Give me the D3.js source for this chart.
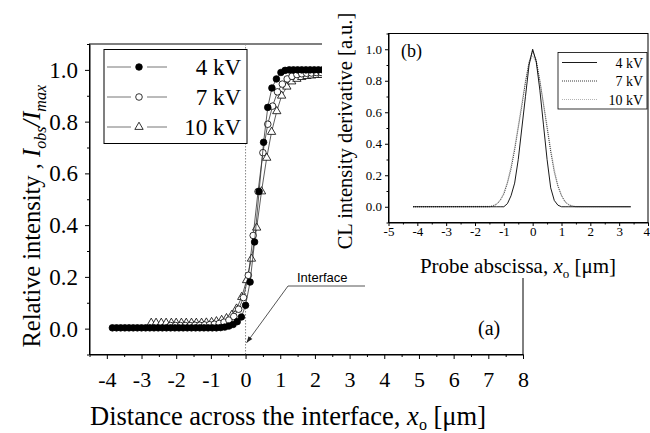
<!DOCTYPE html>
<html>
<head>
<meta charset="utf-8">
<script src="https://cdn.jsdelivr.net/npm/d3@7"></script>
<style>
  body { margin: 0; background: #fff; }
  text { font-family: "Liberation Serif", "Times New Roman", serif; fill: #000; }
</style>
</head>
<body>
<div id="chart"></div>
<script>
// panel (a): relative intensity vs distance
const kv4X = [-3.84,-3.72,-3.60,-3.48,-3.36,-3.24,-3.12,-3.00,-2.88,-2.76,-2.64,-2.52,-2.40,-2.28,-2.16,-2.04,-1.92,-1.80,-1.68,-1.56,-1.44,-1.32,-1.20,-1.08,-0.96,-0.84,-0.72,-0.60,-0.48,-0.36,-0.24,-0.12,0.00,0.13,0.26,0.39,0.52,0.64,0.76,0.89,1.02,1.14,1.26,1.38,1.50,1.62,1.74,1.86,1.98,2.10,2.22];
const kv4Y = [0.003,0.003,0.003,0.003,0.003,0.003,0.003,0.003,0.003,0.003,0.003,0.003,0.003,0.003,0.003,0.003,0.003,0.003,0.003,0.003,0.003,0.003,0.003,0.003,0.003,0.003,0.004,0.006,0.010,0.016,0.027,0.045,0.090,0.180,0.335,0.530,0.720,0.855,0.930,0.965,0.990,0.998,1.000,1.000,1.000,1.000,1.000,1.000,1.000,1.000,1.000];
const kv7X = [-2.16,-2.02,-1.88,-1.74,-1.60,-1.46,-1.32,-1.18,-1.04,-0.90,-0.76,-0.62,-0.48,-0.34,-0.20,-0.06,0.08,0.22,0.36,0.50,0.64,0.78,0.92,1.06,1.20,1.34,1.48,1.62,1.76,1.90,2.04,2.18];
const kv7Y = [0.012,0.012,0.012,0.012,0.012,0.013,0.013,0.014,0.015,0.017,0.020,0.025,0.033,0.047,0.075,0.120,0.206,0.360,0.530,0.680,0.790,0.860,0.915,0.945,0.965,0.975,0.982,0.985,0.987,0.988,0.990,0.990];
const kv10X = [-2.72,-2.58,-2.43,-2.29,-2.14,-2.00,-1.85,-1.71,-1.56,-1.42,-1.27,-1.13,-0.98,-0.84,-0.69,-0.55,-0.40,-0.26,-0.11,0.03,0.17,0.32,0.46,0.61,0.75,0.90,1.04,1.19,1.33,1.48,1.62,1.77,1.91,2.06,2.20];
const kv10Y = [0.022,0.022,0.022,0.022,0.022,0.022,0.022,0.022,0.022,0.022,0.022,0.023,0.025,0.028,0.033,0.040,0.052,0.077,0.122,0.187,0.270,0.390,0.530,0.660,0.760,0.840,0.900,0.935,0.955,0.965,0.972,0.976,0.978,0.980,0.980];
const mainXTicks = [-4,-3,-2,-1,0,1,2,3,4,5,6,7,8];
const mainYTicks = [0.0,0.2,0.4,0.6,0.8,1.0];
const legendA = ["4 kV", "7 kV", "10 kV"];

// panel (b): derivative
const insetX = [-4.15,-1.5,-1.375,-1.25,-1.125,-1.0,-0.875,-0.75,-0.625,-0.5,-0.375,-0.25,-0.125,0,0.125,0.25,0.375,0.5,0.625,0.75,0.875,1.0,1.125,1.25,1.375,1.5,3.4];
const d4 = [0,0,0,0,0,0,0.02,0.07,0.15,0.30,0.50,0.70,0.90,1.00,0.92,0.74,0.52,0.30,0.12,0.04,0.01,0,0,0,0,0,0];
const d7 = [0,0,0.005,0.015,0.04,0.08,0.15,0.24,0.36,0.50,0.64,0.79,0.92,0.99,0.93,0.80,0.65,0.50,0.35,0.22,0.13,0.07,0.03,0.012,0.004,0,0];
const d10 = [0,0.003,0.008,0.02,0.045,0.09,0.16,0.26,0.38,0.52,0.66,0.80,0.91,0.96,0.91,0.80,0.66,0.52,0.37,0.24,0.14,0.075,0.035,0.015,0.006,0.002,0];
const insetXTicks = [-5,-4,-3,-2,-1,0,1,2,3,4];
const insetYTicks = [0.0,0.2,0.4,0.6,0.8,1.0];
const legendB = ["4 kV", "7 kV", "10 kV"];

const width = 650;
const height = 433;

const svg = d3
  .select("#chart")
  .append("svg")
  .attr("width", width)
  .attr("height", height);

// ---------- main panel ----------
const x = d3.scaleLinear().domain([-4.5, 8]).range([89.5, 523]);
const y = d3.scaleLinear().domain([-0.1, 1.1]).range([354.5, 44]);

const main = svg.append("g");

// frame
main.append("rect")
  .attr("x", x(-4.5)).attr("y", y(1.1))
  .attr("width", x(8) - x(-4.5)).attr("height", y(-0.1) - y(1.1))
  .style("fill", "none").style("stroke", "#000").style("stroke-width", 1);

// interface dotted line
main.append("line")
  .attr("x1", x(0)).attr("x2", x(0))
  .attr("y1", y(1.1)).attr("y2", y(-0.1))
  .style("stroke", "#888").style("stroke-width", 1)
  .style("stroke-dasharray", "1.5,1.5");

// minor ticks
main.append("g")
  .attr("transform", `translate(0,${y(-0.1)})`)
  .call(d3.axisBottom(x).tickValues(d3.range(-4.5, 8.01, 1)).tickSize(2.5).tickFormat(""))
  .call((g) => g.select(".domain").remove());
main.append("g")
  .attr("transform", `translate(${x(-4.5)},0)`)
  .call(d3.axisLeft(y).tickValues([-0.1,0.1,0.3,0.5,0.7,0.9,1.1]).tickSize(2.5).tickFormat(""))
  .call((g) => g.select(".domain").remove());

const xAxis = main.append("g")
  .attr("transform", `translate(0,${y(-0.1)})`)
  .call(d3.axisBottom(x).tickValues(mainXTicks).tickSize(4.5).tickSizeOuter(0).tickPadding(12)
    .tickFormat((d) => String(d)));
xAxis.selectAll("text").style("font-size", "22px").style("font-family", "Liberation Serif, serif");

const yAxis = main.append("g")
  .attr("transform", `translate(${x(-4.5)},0)`)
  .call(d3.axisLeft(y).tickValues(mainYTicks).tickSize(4.5).tickSizeOuter(0).tickPadding(7)
    .tickFormat((d) => d.toFixed(1)));
yAxis.selectAll("text").style("font-size", "23px").style("font-family", "Liberation Serif, serif");

// series
const lineA = d3.line().x((d) => x(d[0])).y((d) => y(d[1]));
const series = [
  { name: "10 kV", xs: kv10X, ys: kv10Y, shape: "tri" },
  { name: "7 kV", xs: kv7X, ys: kv7Y, shape: "open" },
  { name: "4 kV", xs: kv4X, ys: kv4Y, shape: "filled" },
];
const tri = d3.symbol().type(d3.symbolTriangle).size(30);

function drawMarker(sel, shape) {
  if (shape === "tri") {
    sel.append("path").attr("d", tri).style("fill", "#fff").style("stroke", "#000").style("stroke-width", 0.8);
  } else {
    sel.append("circle").attr("r", 3.3)
      .style("fill", shape === "filled" ? "#000" : "#fff")
      .style("stroke", "#000").style("stroke-width", 0.8);
  }
}

series.forEach((s) => {
  const pts = s.xs.map((v, i) => [v, s.ys[i]]);
  main.append("path").datum(pts).attr("d", lineA)
    .style("fill", "none").style("stroke", "#333").style("stroke-width", 0.8);
  main.selectAll(null).data(pts).enter().append("g")
    .attr("transform", (d) => `translate(${x(d[0])},${y(d[1])})`)
    .each(function () { drawMarker(d3.select(this), s.shape); });
});

// legend (a)
const legA = main.append("g");
legA.append("rect").attr("x", 104).attr("y", 49.5).attr("width", 143).attr("height", 94)
  .style("fill", "#fff").style("stroke", "#000").style("stroke-width", 1);
const legShapes = ["filled", "open", "tri"];
legendA.forEach((lab, i) => {
  const ly = 67 + i * 30;
  legA.append("line").attr("x1", 107).attr("x2", 131).attr("y1", ly).attr("y2", ly)
    .style("stroke", "#777").style("stroke-width", 1);
  legA.append("line").attr("x1", 147).attr("x2", 167).attr("y1", ly).attr("y2", ly)
    .style("stroke", "#777").style("stroke-width", 1);
  const m = legA.append("g").attr("transform", `translate(139,${ly})`);
  drawMarker(m, legShapes[i]);
  legA.append("text").attr("x", 241).attr("y", ly + 8).attr("text-anchor", "end")
    .style("font-size", "23px").text(lab);
});

main.append("text").attr("x", 478).attr("y", 335).style("font-size", "20px").text("(a)");

// axis titles (a)
const xt = main.append("text").attr("x", 90).attr("y", 425).style("font-size", "26.5px");
xt.append("tspan").text("Distance across the interface, ");
xt.append("tspan").style("font-style", "italic").text("x");
xt.append("tspan").attr("dy", 5).style("font-size", "16px").text("o");
xt.append("tspan").attr("dy", -5).text(" [\u03bcm]");

const yt = main.append("text").attr("transform", "translate(40,85) rotate(-90)")
  .attr("text-anchor", "end").style("font-size", "24.5px");
yt.append("tspan").text("Relative intensity , ");
yt.append("tspan").style("font-style", "italic").text("I");
yt.append("tspan").attr("dy", 6).style("font-size", "16px").style("font-style", "italic").text("obs");
yt.append("tspan").attr("dy", -6).style("font-style", "italic").text("/I");
yt.append("tspan").attr("dy", 6).style("font-size", "16px").style("font-style", "italic").text("max");

// ---------- inset panel ----------
const ix = d3.scaleLinear().domain([-5, 4]).range([388.5, 648]);
const iy = d3.scaleLinear().domain([-0.1, 1.1]).range([222.5, 33.5]);

const inset = svg.append("g");
inset.append("rect").attr("x", 322).attr("y", 0).attr("width", 328).attr("height", 278)
  .style("fill", "#fff");
inset.append("rect")
  .attr("x", ix(-5)).attr("y", iy(1.1))
  .attr("width", ix(4) - ix(-5)).attr("height", iy(-0.1) - iy(1.1))
  .style("fill", "none").style("stroke", "#000").style("stroke-width", 1);

inset.append("g")
  .attr("transform", `translate(0,${iy(-0.1)})`)
  .call(d3.axisBottom(ix).tickValues(d3.range(-4.5, 4, 1)).tickSize(2).tickFormat(""))
  .call((g) => g.select(".domain").remove());
inset.append("g")
  .attr("transform", `translate(${ix(-5)},0)`)
  .call(d3.axisLeft(iy).tickValues([-0.1,0.1,0.3,0.5,0.7,0.9,1.1]).tickSize(2).tickFormat(""))
  .call((g) => g.select(".domain").remove());

const ixAxis = inset.append("g")
  .attr("transform", `translate(0,${iy(-0.1)})`)
  .call(d3.axisBottom(ix).tickValues(insetXTicks).tickSize(3.5).tickSizeOuter(0).tickPadding(1)
    .tickFormat((d) => String(d)));
ixAxis.selectAll("text").style("font-size", "13px").style("font-family", "Liberation Serif, serif");
// keep the last label inside the page
ixAxis.selectAll("text").filter((d) => d === 4).attr("text-anchor", "end").attr("x", 1.5);
const iyAxis = inset.append("g")
  .attr("transform", `translate(${ix(-5)},0)`)
  .call(d3.axisLeft(iy).tickValues(insetYTicks).tickSize(3.5).tickSizeOuter(0).tickPadding(3)
    .tickFormat((d) => d.toFixed(1)));
iyAxis.selectAll("text").style("font-size", "13px").style("font-family", "Liberation Serif, serif");

const lineB = d3.line().x((d) => ix(d[0])).y((d) => iy(d[1]));
const insetSeries = [
  { ys: d10, stroke: "#aaa", dash: "1,1" },
  { ys: d7, stroke: "#222", dash: "1,1" },
  { ys: d4, stroke: "#000", dash: null },
];
insetSeries.forEach((s) => {
  inset.append("path").datum(insetX.map((v, i) => [v, s.ys[i]])).attr("d", lineB)
    .style("fill", "none").style("stroke", s.stroke).style("stroke-width", 0.9)
    .style("stroke-dasharray", s.dash);
});

// legend (b)
inset.append("rect").attr("x", 558).attr("y", 52.5).attr("width", 89).attr("height", 56.5)
  .style("fill", "#fff").style("stroke", "#000").style("stroke-width", 0.8);
legendB.forEach((lab, i) => {
  const ly = 62.5 + i * 18.5;
  inset.append("line").attr("x1", 562).attr("x2", 597).attr("y1", ly).attr("y2", ly)
    .style("stroke", insetSeries[2 - i].stroke).style("stroke-width", 0.9)
    .style("stroke-dasharray", insetSeries[2 - i].dash);
  inset.append("text").attr("x", 643).attr("y", ly + 5).attr("text-anchor", "end")
    .style("font-size", "14px").text(lab);
});

inset.append("text").attr("x", 401).attr("y", 57).style("font-size", "18px").text("(b)");

const ixt = inset.append("text").attr("x", 518).attr("y", 273).attr("text-anchor", "middle")
  .style("font-size", "21px");
ixt.append("tspan").text("Probe abscissa, ");
ixt.append("tspan").style("font-style", "italic").text("x");
ixt.append("tspan").attr("dy", 5).style("font-size", "13px").text("o");
ixt.append("tspan").attr("dy", -5).text(" [\u03bcm]");

inset.append("text").attr("transform", "translate(352,131) rotate(-90)")
  .attr("text-anchor", "middle").style("font-size", "20.5px")
  .text("CL intensity derivative [a.u.]");

// interface annotation (drawn last so the inset background does not hide it)
const note = svg.append("g");
const tipX = x(0) + 1, tipY = y(-0.055);
note.append("polyline")
  .attr("points", `365,286 288,286 ${tipX},${tipY}`)
  .style("fill", "none").style("stroke", "#555").style("stroke-width", 1);
const ang = Math.atan2(tipY - 286, tipX - 288);
note.append("path")
  .attr("d", `M${tipX},${tipY} L${tipX - 7 * Math.cos(ang - 0.35)},${tipY - 7 * Math.sin(ang - 0.35)} L${tipX - 7 * Math.cos(ang + 0.35)},${tipY - 7 * Math.sin(ang + 0.35)} Z`)
  .style("fill", "#222");
note.append("text").attr("x", 297).attr("y", 282)
  .style("font-family", "Liberation Sans, Arial, sans-serif").style("font-size", "13px")
  .text("Interface");
</script>
</body>
</html>
